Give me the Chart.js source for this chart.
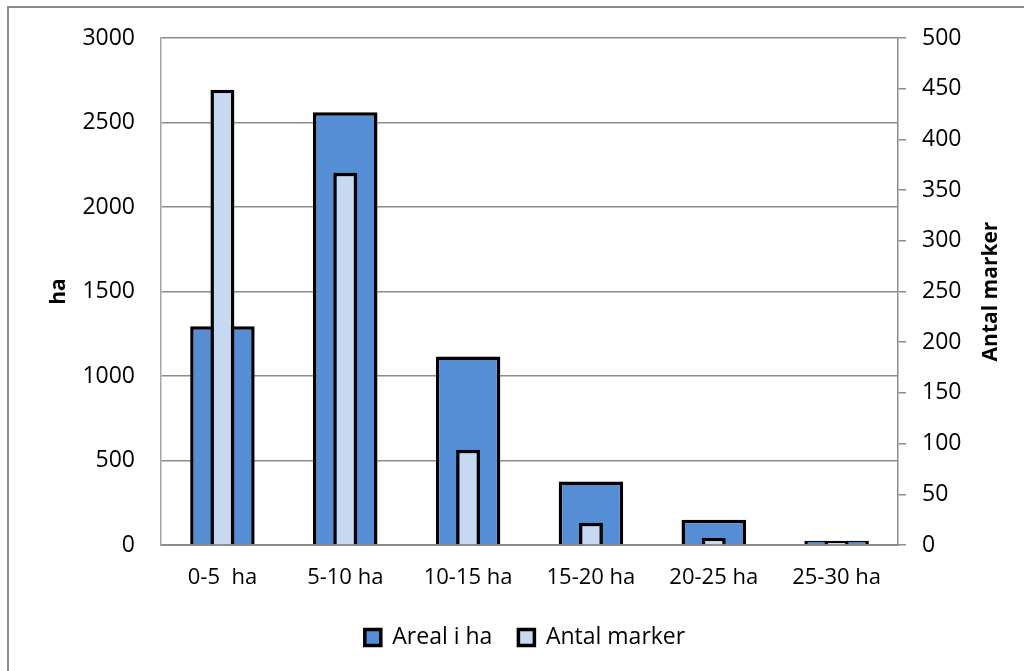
<!DOCTYPE html>
<html>
<head>
<meta charset="utf-8">
<script src="https://cdn.jsdelivr.net/npm/chart.js@4"></script>
<style>
  html, body { margin: 0; padding: 0; background: #fff; overflow: hidden; }
  #wrap { position: relative; width: 1024px; height: 671px; }
  #frame { position: absolute; left: 7px; top: 6px; width: 1100px; height: 700px;
           border-left: 2px solid #8c8c8c; border-top: 2px solid #8c8c8c; }
  canvas { position: absolute; left: 0; top: 0; }
</style>
</head>
<body>
<div id="wrap">
  <div id="frame"></div>
  <canvas id="c" width="1024" height="671"></canvas>
</div>
<script>
// Size classes of the fields
const categories = ['0-5  ha', '5-10 ha', '10-15 ha', '15-20 ha', '20-25 ha', '25-30 ha'];
// Total area per class (ha, left axis)
const arealHa = [1295, 2560, 1115, 376, 150, 25];
// Number of fields per class (right axis)
const antalMarker = [449, 367, 94, 22, 7, 3];
// Axis ranges: [min, max, step]
const haRange = [0, 3000, 500];
const markerRange = [0, 500, 50];

const FONT = '"Open Sans", "DejaVu Sans", sans-serif';
const tickFont = { family: FONT, size: 23 };
const catFont = { family: FONT, size: 22 };
const GRID = '#8c8c8c';
const plain = v => String(v);

// Rotated axis titles, both reading bottom-to-top
const axisTitles = {
  id: 'axisTitles',
  afterDraw(chart) {
    const { ctx, chartArea } = chart;
    const cy = (chartArea.top + chartArea.bottom) / 2;
    ctx.save();
    ctx.font = 'bold 21px ' + FONT;
    ctx.fillStyle = '#000';
    ctx.textAlign = 'center';
    ctx.textBaseline = 'middle';
    const draw = (text, x) => {
      ctx.save();
      ctx.translate(x, cy);
      ctx.rotate(-Math.PI / 2);
      ctx.fillText(text, 0, 0);
      ctx.restore();
    };
    draw('ha', chart.scales.y.left + 33);
    draw('Antal marker', chart.scales.y1.right - 33);
    ctx.restore();
  }
};

// Fixed width for a vertical axis, without extra top/bottom label overhang
const fixVertical = w => s => { s.width = w; s.paddingTop = 0; s.paddingBottom = 0; };

new Chart(document.getElementById('c'), {
  type: 'bar',
  data: {
    labels: categories,
    datasets: [
      {
        label: 'Areal i ha',
        data: arealHa,
        yAxisID: 'y',
        backgroundColor: '#558ED5',
        borderColor: '#000',
        borderWidth: 3.5,
        grouped: false,
        categoryPercentage: 1,
        barPercentage: 0.525,
        order: 2
      },
      {
        label: 'Antal marker',
        data: antalMarker,
        yAxisID: 'y1',
        backgroundColor: '#C6D9F1',
        borderColor: '#000',
        borderWidth: 3.5,
        grouped: false,
        categoryPercentage: 1,
        barPercentage: 0.195,
        order: 1
      }
    ]
  },
  options: {
    responsive: false,
    animation: false,
    layout: { padding: { left: 26, right: 0, top: 38, bottom: 12 } },
    plugins: {
      legend: {
        position: 'bottom',
        labels: {
          font: tickFont,
          color: '#000',
          boxWidth: 16,
          boxHeight: 16,
          padding: 26,
          sort: (a, b) => a.datasetIndex - b.datasetIndex
        }
      },
      tooltip: { enabled: false }
    },
    scales: {
      x: {
        grid: { display: false, drawTicks: false },
        border: { display: true, color: GRID, width: 2 },
        ticks: { font: catFont, color: '#000', padding: 20, maxRotation: 0, autoSkip: false },
        afterFit(s) { s.height = 55; }
      },
      y: {
        position: 'left',
        min: haRange[0],
        max: haRange[1],
        ticks: { stepSize: haRange[2], font: tickFont, color: '#000', padding: 26, callback: plain },
        grid: { color: GRID, lineWidth: 1.5, drawTicks: false },
        border: { display: true, color: '#a6a6a6', width: 1.5 },
        afterFit: fixVertical(135)
      },
      y1: {
        position: 'right',
        min: markerRange[0],
        max: markerRange[1],
        ticks: { stepSize: markerRange[2], font: tickFont, color: '#000', padding: 16, callback: plain },
        grid: { drawOnChartArea: false, drawTicks: true, tickLength: 8, color: GRID, lineWidth: 1.5 },
        border: { display: true, color: GRID, width: 1.5 },
        afterFit: fixVertical(126)
      }
    }
  },
  plugins: [axisTitles]
});
</script>
</body>
</html>
